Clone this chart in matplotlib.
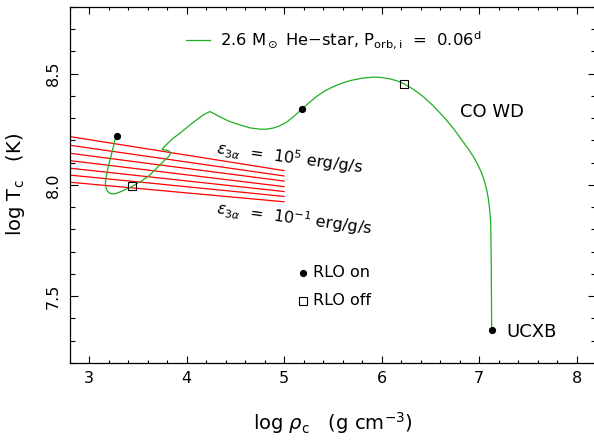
import numpy as np
import matplotlib
matplotlib.use("Agg")
import matplotlib.pyplot as plt
from matplotlib.ticker import MultipleLocator

# evolutionary track of the He-star donor (log rho_c, log T_c)
track_rho = [3.290, 3.267, 3.233, 3.198, 3.174, 3.168, 3.171, 3.180, 3.195, 3.212,
             3.233, 3.265, 3.301, 3.345, 3.387, 3.446, 3.541, 3.626, 3.694, 3.779,
             3.820, 3.836, 3.828, 3.810, 3.775, 3.749, 3.770, 3.797, 3.865, 3.933,
             4.036, 4.110, 4.172, 4.215, 4.241, 4.280, 4.344, 4.440, 4.549, 4.650,
             4.754, 4.820, 4.890, 4.960, 5.028, 5.100, 5.182, 5.260, 5.335, 5.420,
             5.506, 5.590, 5.677, 5.800, 5.916, 6.000, 6.087, 6.160, 6.231, 6.330,
             6.429, 6.530, 6.634, 6.740, 6.839, 6.895, 6.942, 6.990, 7.028, 7.056,
             7.079, 7.095, 7.106, 7.114, 7.120, 7.123, 7.125, 7.126, 7.128, 7.130]
track_T = [8.221, 8.202, 8.142, 8.082, 8.030, 8.010, 7.992, 7.979, 7.969, 7.963,
           7.960, 7.960, 7.965, 7.973, 7.982, 7.994, 8.018, 8.045, 8.075, 8.112,
           8.128, 8.141, 8.149, 8.154, 8.157, 8.158, 8.170, 8.182, 8.210, 8.232,
           8.269, 8.294, 8.314, 8.324, 8.329, 8.320, 8.305, 8.285, 8.269, 8.256,
           8.250, 8.250, 8.255, 8.266, 8.282, 8.307, 8.340, 8.370, 8.397, 8.422,
           8.441, 8.456, 8.468, 8.479, 8.484, 8.482, 8.476, 8.467, 8.454, 8.428,
           8.396, 8.355, 8.307, 8.252, 8.192, 8.158, 8.127, 8.088, 8.053, 8.015,
           7.978, 7.940, 7.903, 7.865, 7.828, 7.753, 7.680, 7.604, 7.480, 7.349]

# RLO on / off markers
rlo_on_rho = [3.290, 5.182, 7.130]
rlo_on_T = [8.221, 8.340, 7.349]
rlo_off_rho = [3.446, 6.231]
rlo_off_T = [7.994, 8.454]

# lines of constant triple-alpha energy generation (10^5 ... 10^-1 erg/g/s)
eps_rho = [2.8, 5.0]
eps_T_left = [8.217, 8.178, 8.142, 8.109, 8.075, 8.044, 8.012]
eps_T_right = [8.064, 8.040, 8.017, 7.992, 7.970, 7.948, 7.924]

plt.rcParams['font.family'] = ['DejaVu Sans']
plt.rcParams['mathtext.fontset'] = 'dejavusans'

green = '#1fae1f'

fig = plt.figure(figsize=(5.94, 4.40), dpi=100)
ax = fig.add_axes([69.5/594, 1-363/440, 526.5/594, 356.3/440])

for tl, tr in zip(eps_T_left, eps_T_right):
    ax.plot(eps_rho, [tl, tr], color='red', lw=0.9, zorder=1)

ax.plot(track_rho, track_T, color=green, lw=0.9, zorder=2)
ax.plot(rlo_on_rho, rlo_on_T, 'o', color='black', ms=4.2, zorder=3)
ax.plot(rlo_off_rho, rlo_off_T, 's', mfc='none', mec='black', mew=0.8, ms=5.5, zorder=3)

# legend-ish annotations
ax.plot([3.995, 4.241], [8.651, 8.651], color=green, lw=0.9)
ax.text(4.344, 8.651, r'2.6 M$_\odot$ He$-$star, P$_{\rm orb,i}$  =  0.06$^{\rm d}$',
        fontsize=11.8, va='center', ha='left')

ax.plot([5.195], [7.605], 'o', color='black', ms=4.2)
ax.text(5.297, 7.605, 'RLO on', fontsize=11.5, va='center', ha='left')
ax.plot([5.195], [7.479], 's', mfc='none', mec='black', mew=0.8, ms=5.5)
ax.text(5.297, 7.479, 'RLO off', fontsize=11.5, va='center', ha='left')

ax.text(6.805, 8.329, 'CO WD', fontsize=13, va='center', ha='left')
ax.text(7.277, 7.337, 'UCXB', fontsize=13, va='center', ha='left')

ax.text(4.31, 8.165, r'$\epsilon_{3\alpha}$  =  10$^5$ erg/g/s', fontsize=11.5,
        rotation=-7.5, rotation_mode='anchor', ha='left', va='center')
ax.text(4.31, 7.895, r'$\epsilon_{3\alpha}$  =  10$^{-1}$ erg/g/s', fontsize=11.5,
        rotation=-7.5, rotation_mode='anchor', ha='left', va='center')

ax.set_xlim(2.8, 8.2)
ax.set_ylim(7.2, 8.8)

ax.xaxis.set_major_locator(MultipleLocator(1))
ax.xaxis.set_minor_locator(MultipleLocator(0.2))
ax.yaxis.set_major_locator(MultipleLocator(0.5))
ax.yaxis.set_minor_locator(MultipleLocator(0.1))

ax.tick_params(axis='both', which='both', direction='in', top=True, right=True, width=0.8)
ax.tick_params(axis='x', which='major', length=4.8, pad=6, labelsize=11.5)
ax.tick_params(axis='x', which='minor', length=2.4)
ax.tick_params(axis='y', which='major', length=5.8, pad=6, labelsize=11.5)
ax.tick_params(axis='y', which='minor', length=3.4)
for lbl in ax.get_yticklabels():
    lbl.set_rotation(90)
    lbl.set_va('center')

for sp in ax.spines.values():
    sp.set_linewidth(0.9)

ax.set_xlabel(r'log $\rho_{\rm c}$   (g cm$^{-3}$)', fontsize=14, labelpad=17)
ax.set_ylabel(r'log T$_{\rm c}$   (K)', fontsize=14, labelpad=14)

fig.savefig('out.png', dpi=100)
